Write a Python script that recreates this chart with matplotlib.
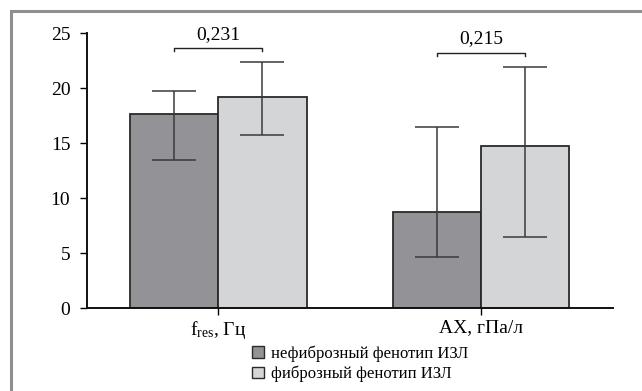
import matplotlib
matplotlib.use("Agg")
import matplotlib.pyplot as plt
from matplotlib.patches import Patch
from matplotlib.lines import Line2D
import numpy as np

# ---- data ----
categories = [r'f$_{\mathrm{res}}$, Гц', 'АХ, гПа/л']
series_names = ['нефиброзный фенотип ИЗЛ', 'фиброзный фенотип ИЗЛ']
nonfib_mean = [17.6, 8.7]
nonfib_low = [13.5, 4.7]
nonfib_high = [19.75, 16.45]
fib_mean = [19.15, 14.7]
fib_low = [15.75, 6.45]
fib_high = [22.4, 21.9]
p_labels = ['0,231', '0,215']
y_ticks = [0, 5, 10, 15, 20, 25]

# ---- style ----
plt.rcParams['font.family'] = ['Liberation Serif', 'DejaVu Serif']
plt.rcParams['mathtext.fontset'] = 'custom'
plt.rcParams['mathtext.rm'] = 'Liberation Serif'
plt.rcParams['mathtext.it'] = 'Liberation Serif:italic'

dark = '#939397'
light = '#d4d5d7'
edge = '#2a2a2a'
err_col = '#3a3a3a'

fig = plt.figure(figsize=(6.42, 3.91), dpi=100)
ax = fig.add_axes([0.1355, 0.2115, 0.819, 0.7041])

x = np.arange(len(categories))
w = 0.335
ax.bar(x - w / 2, nonfib_mean, w, color=dark, edgecolor=edge, linewidth=1.3, zorder=2)
ax.bar(x + w / 2, fib_mean, w, color=light, edgecolor=edge, linewidth=1.3, zorder=2)

for xs, m, lo, hi in [(x - w / 2, nonfib_mean, nonfib_low, nonfib_high),
                      (x + w / 2, fib_mean, fib_low, fib_high)]:
    m = np.array(m)
    yerr = [m - np.array(lo), np.array(hi) - m]
    ax.errorbar(xs, m, yerr=yerr, fmt='none', ecolor=err_col, elinewidth=1.1,
                capsize=15.5, capthick=1.1, zorder=3)

# significance brackets
bracket_y = [23.65, 23.2]
label_y = [24.1, 23.7]
for i, (p, by, ly) in enumerate(zip(p_labels, bracket_y, label_y)):
    x0, x1 = x[i] - w / 2, x[i] + w / 2
    ax.plot([x0, x0, x1, x1], [by - 0.3, by, by, by - 0.3], color='#222222', lw=1.0,
            clip_on=False, zorder=3)
    ax.text((x0 + x1) / 2, ly, p, ha='center', va='bottom', fontsize=14)

ax.set_xlim(-0.5, 1.5)
ax.set_ylim(0, 25)
ax.set_yticks(y_ticks)
ax.set_xticks(x)
ax.set_xticklabels(categories, fontsize=14)
ax.tick_params(axis='y', labelsize=14, length=5, width=1, direction='out', pad=7)
ax.tick_params(axis='x', length=5, width=1, direction='out', pad=3)
for s in ['top', 'right']:
    ax.spines[s].set_visible(False)
for s in ['left', 'bottom']:
    ax.spines[s].set_linewidth(1.4)
    ax.spines[s].set_color('#111111')

handles = [Patch(facecolor=dark, edgecolor=edge, linewidth=1.0),
           Patch(facecolor=light, edgecolor=edge, linewidth=1.0)]
fig.legend(handles, series_names, loc='upper left', bbox_to_anchor=(0.393, 0.116),
           frameon=False, fontsize=12, handlelength=0.7, handleheight=0.7,
           handletextpad=0.45, labelspacing=0.22, borderpad=0, borderaxespad=0)

# outer frame (top and left)
fig.add_artist(Line2D([0.0168, 0.0168, 1.0], [0.0, 0.9724, 0.9724],
                      transform=fig.transFigure, color='#8f8f8f', lw=2.2,
                      solid_joinstyle='miter'))

fig.savefig('out.png', dpi=100, facecolor='white')
